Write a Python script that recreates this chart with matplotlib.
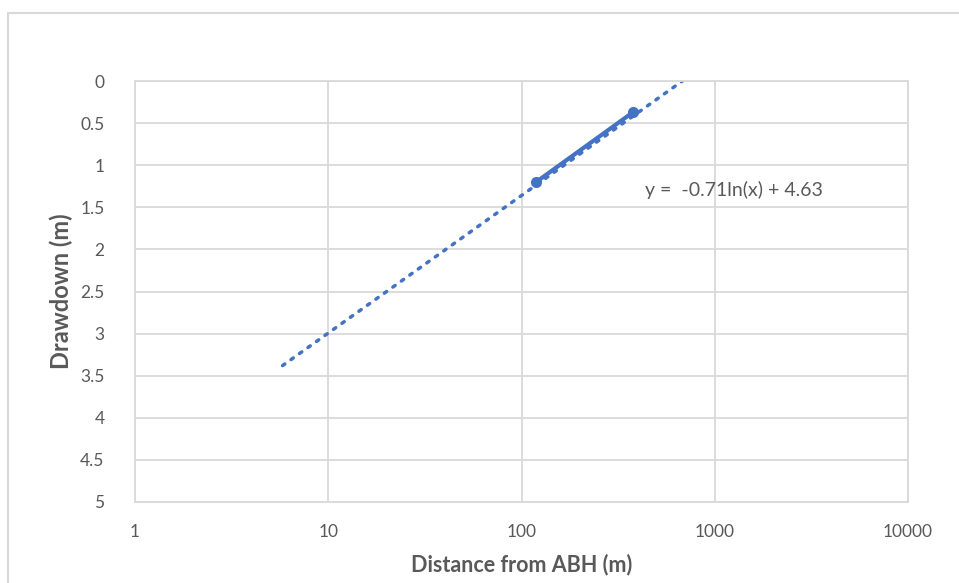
import matplotlib.pyplot as plt
from matplotlib.patches import Rectangle

# 观测数据
distance = [119, 378]
drawdown = [1.2, 0.37]

# 对数趋势线端点 (y = -0.71ln(x) + 4.63)
trend_x = [5.8, 680]
trend_y = [3.38, 0.0]
trend_label = 'y =  -0.71ln(x) + 4.63'

x_ticks = [1, 10, 100, 1000, 10000]
y_ticks = [0, 0.5, 1, 1.5, 2, 2.5, 3, 3.5, 4, 4.5, 5]

blue = '#4472C4'
grey = '#595959'
grid_c = '#d9d9d9'

plt.rcParams['font.family'] = ['Lato', 'DejaVu Sans']

fig = plt.figure(figsize=(9.59, 5.83), dpi=100)
ax = fig.add_axes([135 / 959, 1 - 502 / 583, (908 - 135) / 959, (502 - 81) / 583])

# 图表外框
fig.patches.append(Rectangle((8 / 959, -0.05), 1.2, 1 - 13 / 583 + 0.05,
                             transform=fig.transFigure, fill=False,
                             edgecolor=grid_c, linewidth=1.5))

ax.plot(trend_x, trend_y, color=blue, linestyle=(0, (0.8, 2.2)),
        linewidth=2.5, dash_capstyle='round', zorder=2)
ax.plot(distance, drawdown, color=blue, linewidth=3, marker='o',
        markersize=7, zorder=3)

ax.set_xscale('log')
ax.set_xlim(1, 10000)
ax.set_ylim(5, 0)
ax.set_xticks(x_ticks)
ax.set_xticklabels([str(t) for t in x_ticks])
ax.set_yticks(y_ticks)
ax.set_yticklabels([f'{t:g}' for t in y_ticks])
ax.minorticks_off()

ax.grid(True, color=grid_c, linewidth=1.3)
ax.set_axisbelow(True)
for s in ax.spines.values():
    s.set_color(grid_c)
    s.set_linewidth(1.3)
ax.tick_params(length=0, labelsize=12.5, colors=grey)
ax.tick_params(axis='x', pad=16)
ax.tick_params(axis='y', pad=22)

ax.set_xlabel('Distance from ABH (m)', fontsize=15.5, fontweight='bold', color=grey, labelpad=10)
ax.set_ylabel('Drawdown (m)', fontsize=17, fontweight='bold', color=grey, labelpad=5)

ax.text(1260, 1.3, trend_label, fontsize=14, color=grey, ha='center', va='center')

plt.savefig('out.png', dpi=100)
